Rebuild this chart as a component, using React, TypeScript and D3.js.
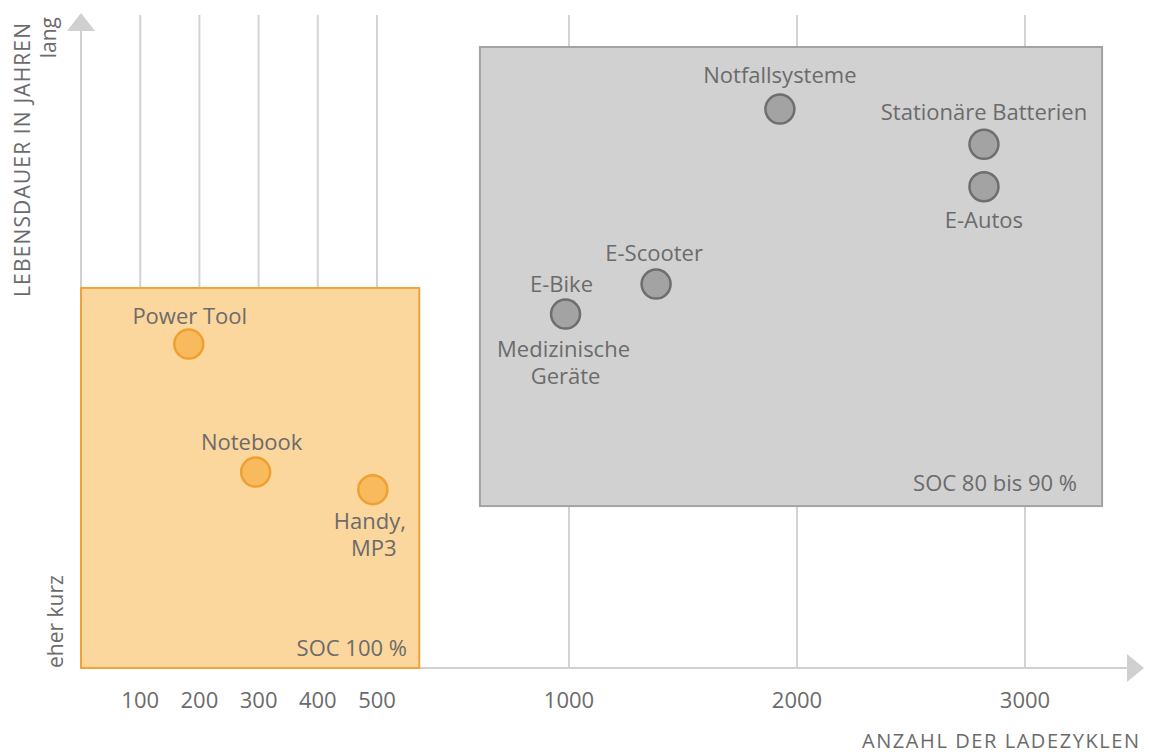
import React from "react";
import * as d3 from "d3";

const W = 1149;
const H = 754;

// X ticks (cycles) – piecewise axis
const xTicks = [100, 200, 300, 400, 500, 1000, 2000, 3000];

// points
const orangeNames = ["Power Tool", "Notebook", "Handy, MP3"];
const orangeX = [182, 295, 493];
const orangeY = [49.6, 30, 27.3];

const grayNames = ["Medizinische Geräte / E-Bike", "E-Scooter", "Notfallsysteme", "Stationäre Batterien", "E-Autos"];
const grayX = [991, 1382, 1925, 2820, 2820];
const grayY = [54.2, 58.8, 85.6, 80.2, 73.7];

// regions [x0, x1, y0, y1]
const orangeBox = [0, 610, 0, 58.2];
const grayBox = [768, 3338, 24.8, 95.1];

const TEXT = "#6b6b6b";
const FONT = "'Open Sans', sans-serif";

export default function App() {
  const x = d3.scaleLinear().domain([0, 500, 1000, 3000]).range([81, 377, 569, 1025]);
  const y = d3.scaleLinear().domain([0, 100]).range([668, 15]);

  const fs = 22;
  const label = (t: string, cx: number, cy: number, anchor = "middle", size = fs) => (
    <text x={cx} y={cy} textAnchor={anchor} dominantBaseline="central" fontSize={size} fill={TEXT} fontFamily={FONT}>
      {t}
    </text>
  );

  return (
    <>
      <style>{`body{margin:0}`}</style>
      <svg width={W} height={H} style={{ display: "block", background: "#fff" }}>
        {/* grid lines */}
        {xTicks.map((t) => (
          <line key={t} x1={x(t)} x2={x(t)} y1={y(100)} y2={y(0)} stroke="#d3d3d3" strokeWidth={2} />
        ))}
        {/* axes */}
        <line x1={x(0)} x2={x(0)} y1={y(0)} y2={28} stroke="#d0d0d0" strokeWidth={2} />
        <path d={`M${x(0)},13 L${x(0) - 14},31 L${x(0) + 14},31 Z`} fill="#d0d0d0" />
        <line x1={x(0)} x2={1130} y1={y(0)} y2={y(0)} stroke="#d0d0d0" strokeWidth={2} />
        <path d={`M1144,${y(0)} L1127,${y(0) - 14} L1127,${y(0) + 14} Z`} fill="#d0d0d0" />

        {/* regions */}
        <rect
          x={x(orangeBox[0])}
          y={y(orangeBox[3])}
          width={x(orangeBox[1]) - x(orangeBox[0])}
          height={y(orangeBox[2]) - y(orangeBox[3])}
          fill="#fbd69d"
          stroke="#f0a33a"
          strokeWidth={2}
        />
        <rect
          x={x(grayBox[0])}
          y={y(grayBox[3])}
          width={x(grayBox[1]) - x(grayBox[0])}
          height={y(grayBox[2]) - y(grayBox[3])}
          fill="#d1d1d1"
          stroke="#a3a3a3"
          strokeWidth={2}
        />

        {/* points */}
        {orangeX.map((v, i) => (
          <circle key={orangeNames[i]} cx={x(v)} cy={y(orangeY[i])} r={14.5} fill="#f8ba5c" stroke="#f0a030" strokeWidth={2.5} />
        ))}
        {grayX.map((v, i) => (
          <circle key={grayNames[i]} cx={x(v)} cy={y(grayY[i])} r={14.5} fill="#a3a3a3" stroke="#6e6e6e" strokeWidth={2.5} />
        ))}

        {/* point labels */}
        {label("Power Tool", x(orangeX[0]) + 1, y(orangeY[0]) - 29)}
        {label("Notebook", x(orangeX[1]) - 4, y(orangeY[1]) - 31)}
        {label("Handy,", x(orangeX[2]) - 3, y(orangeY[2]) + 30)}
        {label("MP3", x(orangeX[2]) + 1, y(orangeY[2]) + 57)}
        {label("E-Bike", x(grayX[0]) - 4, y(grayY[0]) - 31)}
        {label("Medizinische", x(grayX[0]) - 2, y(grayY[0]) + 34)}
        {label("Geräte", x(grayX[0]), y(grayY[0]) + 61)}
        {label("E-Scooter", x(grayX[1]) - 2, y(grayY[1]) - 32)}
        {label("Notfallsysteme", x(grayX[2]), y(grayY[2]) - 35)}
        {label("Stationäre Batterien", x(grayX[3]), y(grayY[3]) - 33)}
        {label("E-Autos", x(grayX[4]), y(grayY[4]) + 32)}

        {label("SOC 100 %", 407, 647, "end")}
        {label("SOC 80 bis 90 %", 1077, 482, "end")}

        {/* x tick labels */}
        {xTicks.map((t) => (
          <text key={t} x={x(t)} y={699} textAnchor="middle" dominantBaseline="central" fontSize={fs} fill={TEXT} fontFamily={FONT}>
            {t}
          </text>
        ))}
        <text x={1139} y={740} textAnchor="end" dominantBaseline="central" fontSize={20} fill={TEXT} fontFamily={FONT} textLength={277} lengthAdjust="spacing">
          ANZAHL DER LADEZYKLEN
        </text>

        {/* y axis labels */}
        <text transform="translate(22,297) rotate(-90)" textAnchor="start" dominantBaseline="central" fontSize={21} fill={TEXT} fontFamily={FONT} textLength={274} lengthAdjust="spacing">
          LEBENSDAUER IN JAHREN
        </text>
        <text transform="translate(48,17) rotate(-90)" textAnchor="end" dominantBaseline="central" fontSize={21} fill={TEXT} fontFamily={FONT}>
          lang
        </text>
        <text transform="translate(55,668) rotate(-90)" textAnchor="start" dominantBaseline="central" fontSize={21} fill={TEXT} fontFamily={FONT}>
          eher kurz
        </text>
      </svg>
    </>
  );
}
